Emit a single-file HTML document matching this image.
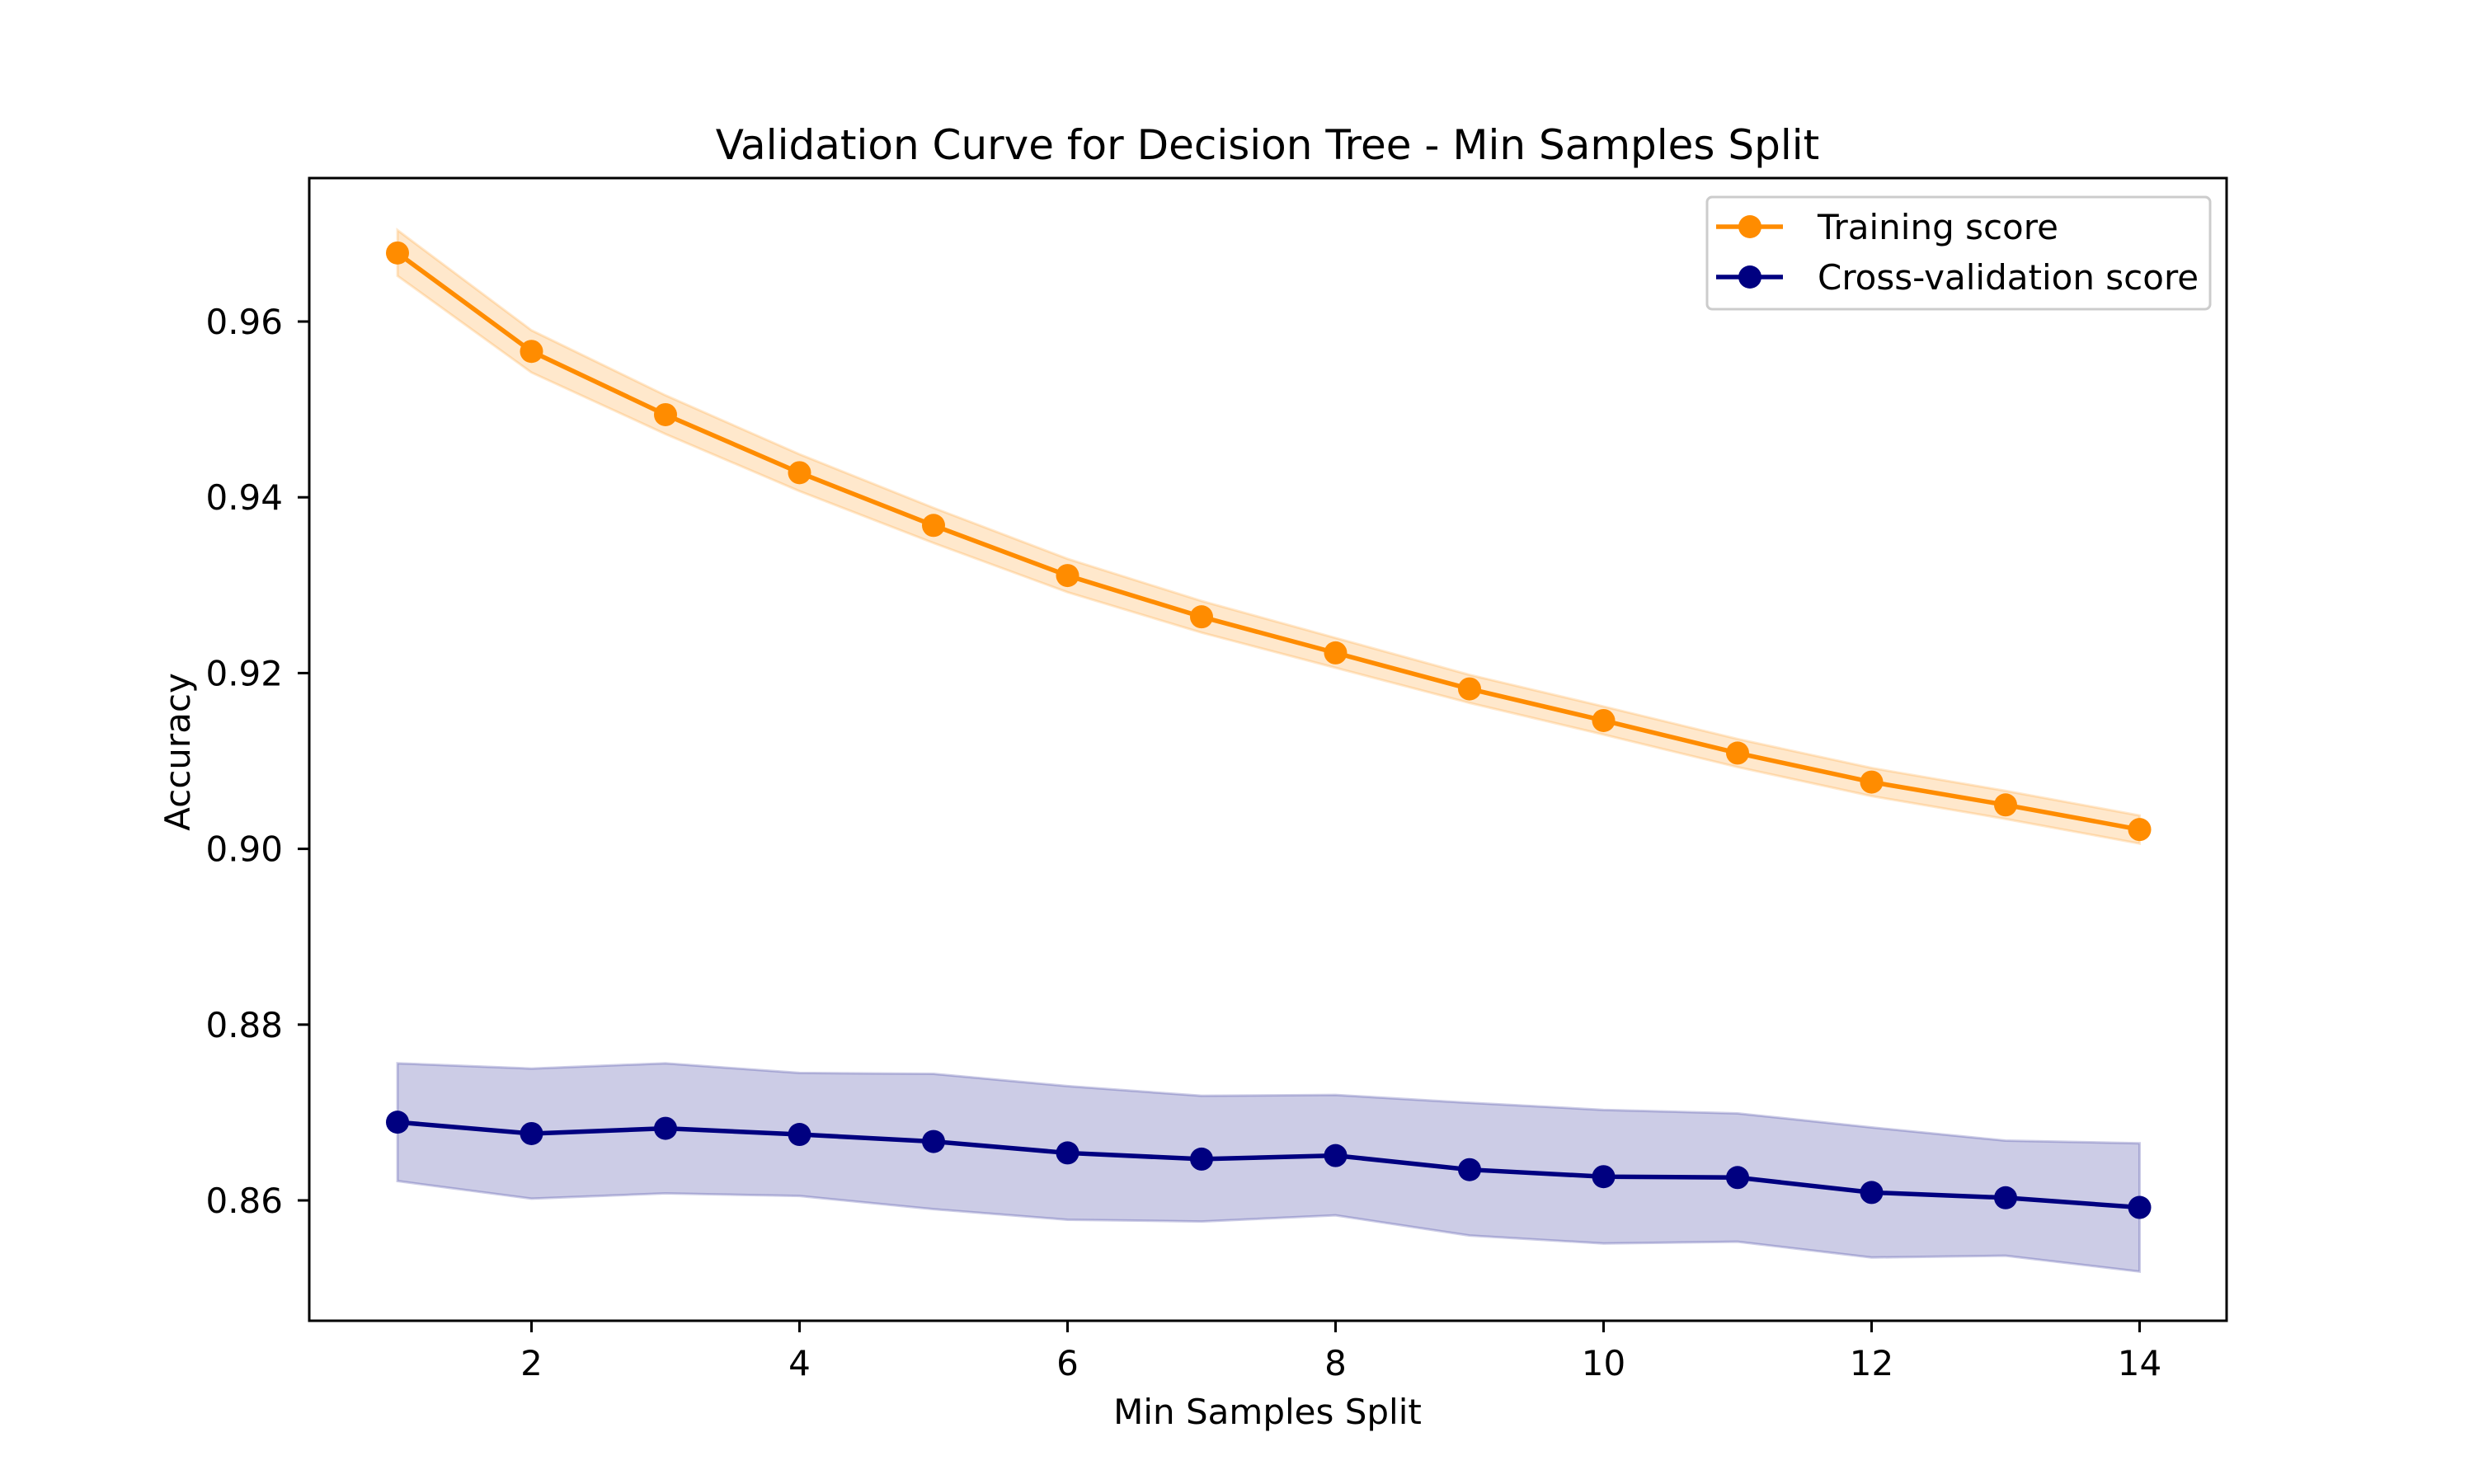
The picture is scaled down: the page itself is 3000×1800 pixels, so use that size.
<!DOCTYPE html>
<html><head><meta charset="utf-8"><style>body{margin:0;background:#fff}svg{display:block}text{font-family:"DejaVu Sans","Liberation Sans",sans-serif;fill:#000}</style></head>
<body>
<svg id="chart" width="3000" height="1800" viewBox="0 0 3000 1800"></svg>
<script>
const xValues=[1,2,3,4,5,6,7,8,9,10,11,12,13,14];
const trainMean=[0.9678,0.9566,0.9494,0.9428,0.9368,0.9311,0.9264,0.9223,0.9182,0.9146,0.9109,0.9076,0.9050,0.9022];
const trainStd=[0.0026,0.0024,0.0022,0.0021,0.0020,0.0019,0.0018,0.0017,0.0016,0.0016,0.0016,0.0016,0.0016,0.0016];
const cvMean=[0.8689,0.8676,0.8682,0.8675,0.8667,0.8654,0.8647,0.8651,0.8635,0.8627,0.8626,0.8609,0.8603,0.8592];
const cvUpper=[0.8756,0.8750,0.8756,0.8745,0.8744,0.8730,0.8719,0.8720,0.8711,0.8703,0.8699,0.8683,0.8668,0.8665];
const cvLower=[0.8622,0.8602,0.8608,0.8605,0.8590,0.8578,0.8576,0.8583,0.8560,0.8551,0.8553,0.8535,0.8537,0.8519];
const xTicks=[2,4,6,8,10,12,14];
const yTicks=[0.86,0.88,0.90,0.92,0.94,0.96];

const NS='http://www.w3.org/2000/svg';
const svg=document.getElementById('chart');
const L=375,R=2700,T=216,B=1602;
const X=v=>482+(v-1)*162.5;
const Y=v=>390+(0.96-v)/0.02*213.2;
function mk(tag,attrs,parent){const e=document.createElementNS(NS,tag);for(const k in attrs)e.setAttribute(k,attrs[k]);(parent||svg).appendChild(e);return e;}

const trainBand=mk('path',{d:'M'+xValues.map((x,i)=>X(x)+','+Y(trainMean[i]+trainStd[i])).join('L')+'L'+xValues.slice().reverse().map((x,j)=>{const i=xValues.length-1-j;return X(x)+','+Y(trainMean[i]-trainStd[i]);}).join('L')+'Z',fill:'rgba(255,140,0,0.2)',stroke:'rgba(255,140,0,0.2)','stroke-width':3});


const cvBand=mk('path',{d:'M'+xValues.map((x,i)=>X(x)+','+Y(cvUpper[i])).join('L')+'L'+xValues.slice().reverse().map((x,j)=>{const i=xValues.length-1-j;return X(x)+','+Y(cvLower[i]);}).join('L')+'Z',fill:'rgba(0,0,128,0.2)',stroke:'rgba(0,0,128,0.2)','stroke-width':3});



function series(vals,color,name){
  const g=mk('g',{});
  
  
  mk('polyline',{points:xValues.map((x,i)=>X(x)+','+Y(vals[i])).join(' '),fill:'none',stroke:color,'stroke-width':5.5,'stroke-linejoin':'round'},g);
  xValues.forEach((x,i)=>{const c=mk('circle',{cx:X(x),cy:Y(vals[i]),r:14,fill:color},g);
    
    });
}
series(trainMean,'#ff8c00','training-score-line');
series(cvMean,'#000080','cv-score-line');

const frame=mk('rect',{x:L,y:T,width:R-L,height:B-T,fill:'none',stroke:'#000','stroke-width':3});



xTicks.forEach(v=>{mk('line',{x1:X(v),x2:X(v),y1:B,y2:B+14,stroke:'#000','stroke-width':3});
  const t=mk('text',{x:X(v),y:1668,'font-size':42,'text-anchor':'middle'});t.textContent=v;
  
  });
yTicks.forEach(v=>{mk('line',{x1:L-14,x2:L,y1:Y(v),y2:Y(v),stroke:'#000','stroke-width':3});
  const t=mk('text',{x:343,y:Y(v)+15,'font-size':42,'text-anchor':'end'});t.textContent=v.toFixed(2);
  
  });

function label(txt,attrs,name){const t=mk('text',attrs);t.textContent=txt;return t;}
label('Validation Curve for Decision Tree - Min Samples Split',{x:1537,y:193,'font-size':50,'text-anchor':'middle'},'chart-title');
label('Min Samples Split',{x:1537,y:1727,'font-size':42,'text-anchor':'middle'},'x-axis-title');
label('Accuracy',{x:0,y:0,'font-size':42,'text-anchor':'middle',transform:'translate(230,912) rotate(-90)'},'y-axis-title');

const lg=mk('g',{});


mk('rect',{x:2070,y:239,width:610,height:136,rx:6,fill:'#fff',stroke:'#ccc','stroke-width':3},lg);
[['Training score','#ff8c00',275],['Cross-validation score','#000080',336]].forEach(([txt,c,y])=>{
  mk('line',{x1:2081,x2:2162,y1:y,y2:y,stroke:c,'stroke-width':5.5},lg);
  mk('circle',{cx:2122,cy:y,r:14,fill:c},lg);
  const t=mk('text',{x:2204,y:y+15,'font-size':42},lg);t.textContent=txt;
  
  
});
</script>
</body></html>
